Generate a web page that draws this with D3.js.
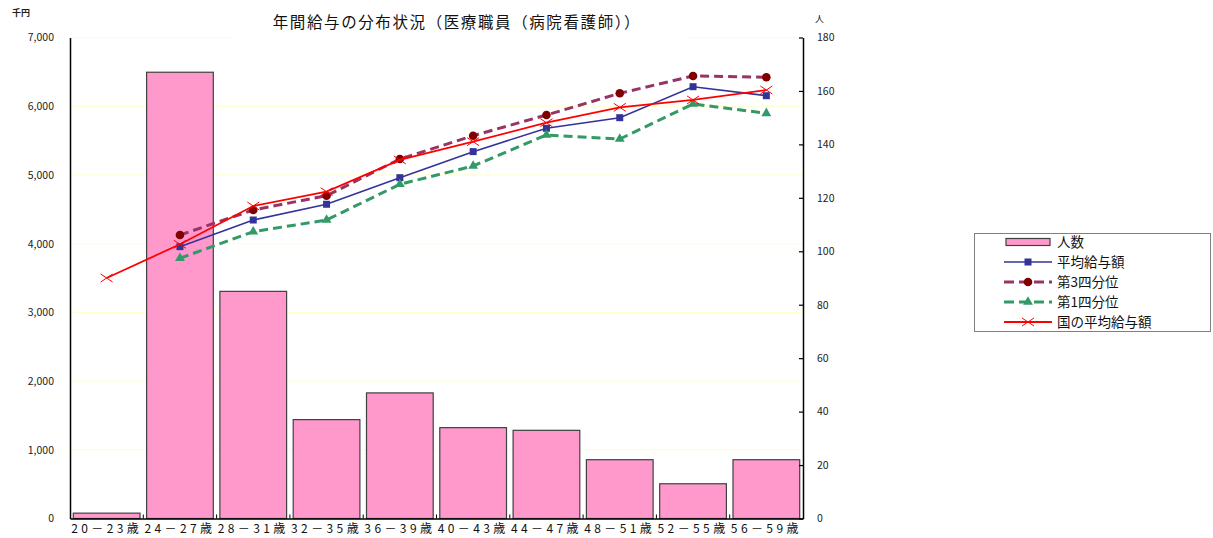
<!DOCTYPE html>
<html><head><meta charset="utf-8">
<script src="https://cdn.jsdelivr.net/npm/d3@7"></script>
<style>
html,body{margin:0;padding:0;background:#fff;}
svg{display:block;}
text{font-family:"Noto Sans CJK JP","Noto Sans",sans-serif;}
</style></head>
<body>
<svg id="c" width="1213" height="538"></svg>
<script>
const categories = ["20－23歳","24－27歳","28－31歳","32－35歳","36－39歳","40－43歳","44－47歳","48－51歳","52－55歳","56－59歳"];
const headcount = [2,167,85,37,47,34,33,22,13,22];
const avgSalary = [null,3956,4344,4573,4960,5339,5679,5833,6284,6153];
const q3Salary = [null,4126,4490,4698,5232,5571,5872,6188,6440,6421];
const q1Salary = [null,3787,4174,4344,4864,5130,5581,5523,6033,5897];
const nationalAvg = [3500,3991,4548,4756,5218,5484,5760,5984,6091,6236];
const leftTicks = [0,1000,2000,3000,4000,5000,6000,7000];
const rightTicks = [0,20,40,60,80,100,120,140,160,180];
const titleText = "年間給与の分布状況（医療職員（病院看護師））";
const legendLabels = ["人数","平均給与額","第3四分位","第1四分位","国の平均給与額"];

const svg = d3.select("#c");
const L = 70, R = 803, T = 37.5, B = 518.5;
const x = d3.scaleBand().domain(categories).range([L, R]).paddingInner(0.09).paddingOuter(0.045);
const yL = d3.scaleLinear().domain([0,7000]).range([B, T]);
const yR = d3.scaleLinear().domain([0,180]).range([B, T]);
const cx = c => x(c) + x.bandwidth()/2;

// gridlines
svg.append("g").selectAll("line").data(leftTicks.filter(d=>d>0)).join("line")
  .attr("x1", L).attr("x2", R).attr("y1", d=>yL(d)).attr("y2", d=>yL(d))
  .attr("stroke", "#ffffc8").attr("stroke-width", 1);

// title background + title
svg.append("rect").attr("x", 232).attr("y", 0).attr("width", 456).attr("height", 40).attr("fill", "#fff");
svg.append("text").attr("x", 457).attr("y", 28).attr("text-anchor", "middle")
  .attr("font-size", 15.5).attr("letter-spacing", "1.6px").attr("fill", "#111").text(titleText);

// bars
svg.append("g").selectAll("rect").data(categories).join("rect")
  .attr("x", d=>x(d)).attr("width", x.bandwidth())
  .attr("y", (d,i)=>yR(headcount[i])).attr("height", (d,i)=>B - yR(headcount[i]))
  .attr("fill", "#ff99cc").attr("stroke", "#404040").attr("stroke-width", 1.2);

// axes
const gl = svg.append("g").attr("transform", `translate(${L},0)`)
  .call(d3.axisLeft(yL).tickValues(leftTicks).tickSize(0).tickPadding(16).tickFormat(d3.format(",")));
gl.select(".domain").attr("stroke", "#000").attr("stroke-width", 1.5);
gl.selectAll("text").attr("font-size", 10.5).attr("fill", "#222");

const gr = svg.append("g").attr("transform", `translate(${R},0)`)
  .call(d3.axisRight(yR).tickValues(rightTicks).tickSizeInner(-4).tickSizeOuter(0).tickPadding(14));
gr.select(".domain").attr("stroke", "#000").attr("stroke-width", 1.5);
gr.selectAll(".tick line").attr("stroke", "#000").attr("stroke-width", 1.2);
gr.selectAll("text").attr("font-size", 10.5).attr("fill", "#222");

const gx = svg.append("g").attr("transform", `translate(0,${B})`)
  .call(d3.axisBottom(x).tickSize(0).tickPadding(6));
gx.select(".domain").attr("stroke", "#000").attr("stroke-width", 1.5);
gx.selectAll("text").attr("font-size", 12).attr("letter-spacing", "3.4px").attr("fill", "#111");
// category boundary ticks
svg.append("g").selectAll("line").data(categories.slice(1)).join("line")
  .attr("x1", d=>x(d) - x.step()*x.paddingInner()/2).attr("x2", d=>x(d) - x.step()*x.paddingInner()/2)
  .attr("y1", B).attr("y2", B-4).attr("stroke", "#000").attr("stroke-width", 1);

// units
svg.append("text").attr("x", 12).attr("y", 16).attr("font-size", 9).attr("font-weight", "bold").attr("fill","#222").text("千円");
svg.append("text").attr("x", 815).attr("y", 22).attr("font-size", 9).attr("fill","#222").text("人");

// lines
const series = [
  {vals: avgSalary, color:"#333399", w:1.6, dash:null, marker:"square", mcolor:"#333399"},
  {vals: q3Salary, color:"#993366", w:3, dash:"9,5", marker:"circle", mcolor:"#800000"},
  {vals: q1Salary, color:"#339966", w:3, dash:"9,5", marker:"triangle", mcolor:"#339966"},
  {vals: nationalAvg, color:"#ff0000", w:1.8, dash:null, marker:"x", mcolor:"#ff0000"}
];
const lineGen = d3.line().defined(d=>d.v!=null).x(d=>cx(d.c)).y(d=>yL(d.v));
function drawMarker(g, type, color, px, py) {
  if (type==="square") g.append("rect").attr("x", px-3.5).attr("y", py-3.5).attr("width", 7).attr("height", 7).attr("fill", color);
  else if (type==="circle") g.append("circle").attr("cx", px).attr("cy", py).attr("r", 4.3).attr("fill", color);
  else if (type==="triangle") g.append("path").attr("d", d3.symbol(d3.symbolTriangle, 42)()).attr("transform", `translate(${px},${py})`).attr("fill", color);
  else if (type==="x") g.append("path").attr("d", `M${px-6},${py-4}L${px+6},${py+4}M${px-6},${py+4}L${px+6},${py-4}`).attr("stroke", color).attr("stroke-width", 1).attr("fill","none");
}
series.forEach(s=>{
  const data = categories.map((c,i)=>({c, v:s.vals[i]}));
  svg.append("path").datum(data).attr("d", lineGen).attr("fill","none")
    .attr("stroke", s.color).attr("stroke-width", s.w).attr("stroke-dasharray", s.dash);
  const g = svg.append("g");
  data.filter(d=>d.v!=null).forEach(d=>drawMarker(g, s.marker, s.mcolor, cx(d.c), yL(d.v)));
});

// legend
const lg = svg.append("g");
lg.append("rect").attr("x", 974.5).attr("y", 233.5).attr("width", 236).attr("height", 98).attr("fill","#fff").attr("stroke","#808080").attr("stroke-width",1);
const ly = d3.scalePoint().domain(legendLabels).range([242, 322]);
legendLabels.forEach((lab,i)=>{
  const yy = ly(lab);
  if (i===0) {
    lg.append("rect").attr("x", 1006).attr("y", yy-3.5).attr("width", 44).attr("height", 7).attr("fill","#ff99cc").attr("stroke","#404040").attr("stroke-width",1.2);
  } else {
    const s = series[i-1];
    lg.append("line").attr("x1", 1004).attr("x2", 1052).attr("y1", yy).attr("y2", yy)
      .attr("stroke", s.color).attr("stroke-width", s.w).attr("stroke-dasharray", s.dash ? "10,5" : null);
    drawMarker(lg, s.marker, s.mcolor, 1028, yy);
  }
  lg.append("text").attr("x", 1057).attr("y", yy+5).attr("font-size", 13.5).attr("fill","#111").text(lab);
});
</script>
</body></html>
